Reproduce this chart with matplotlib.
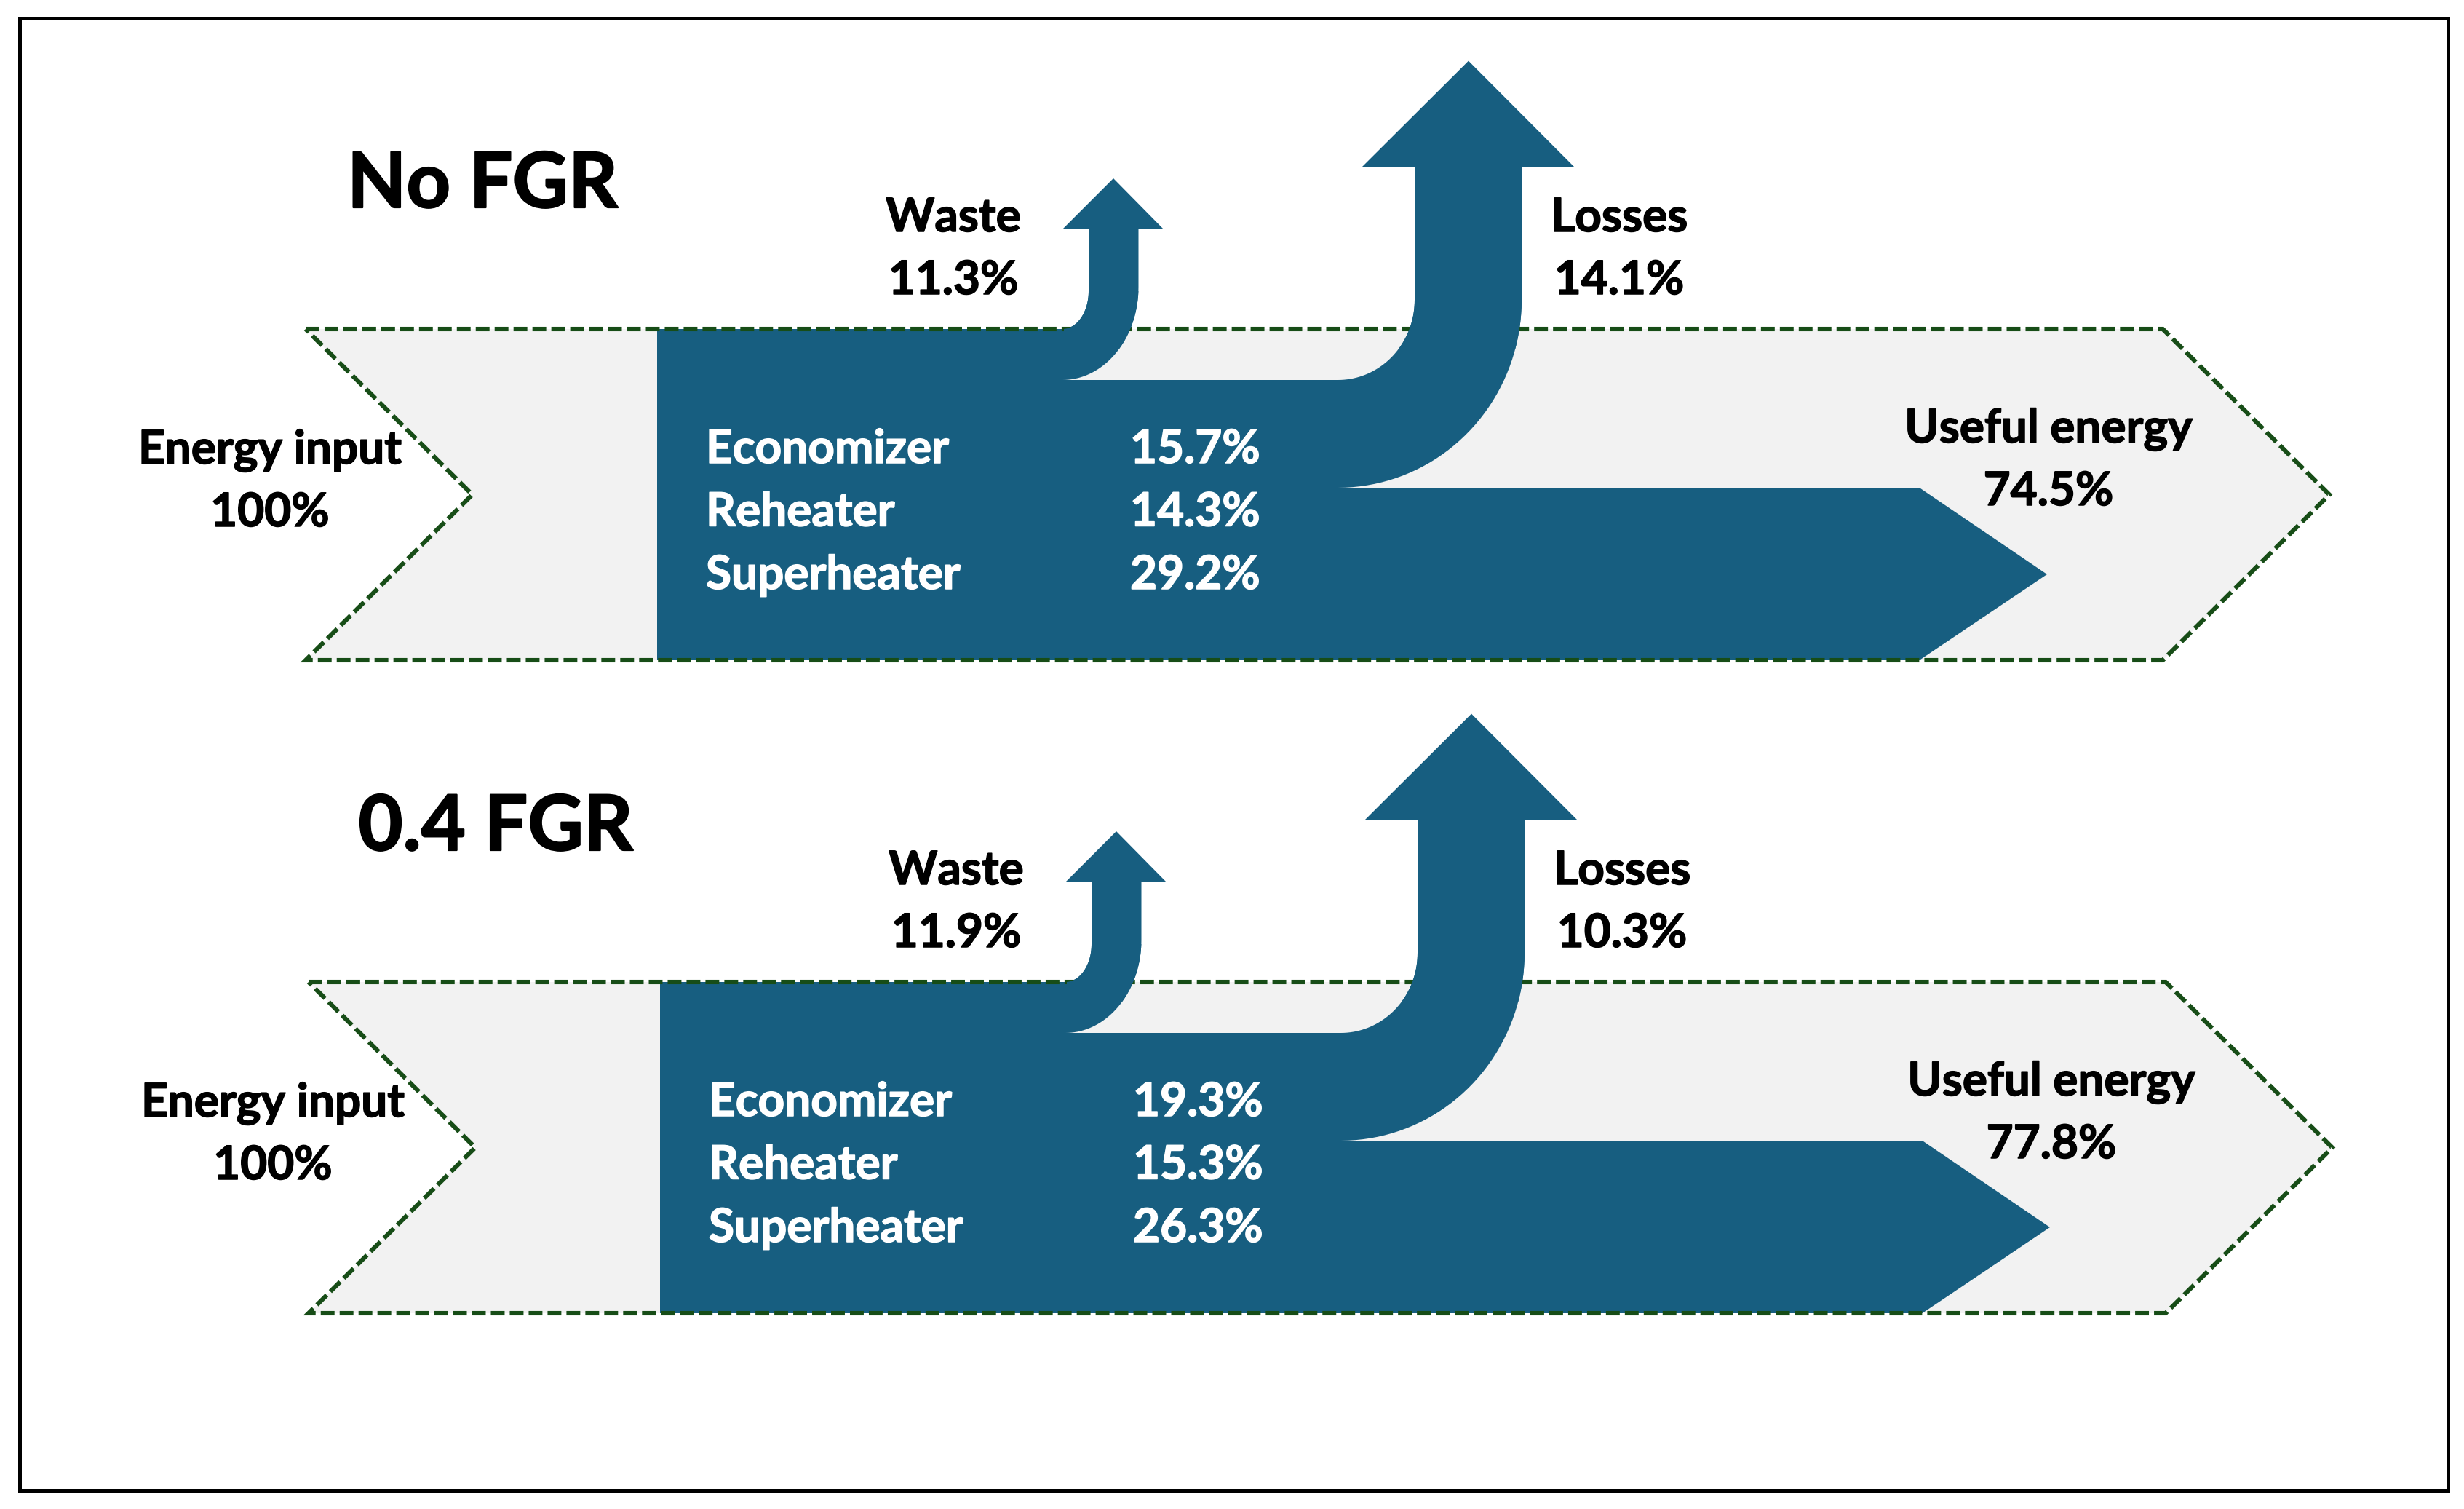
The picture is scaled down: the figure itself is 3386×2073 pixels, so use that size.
import numpy as np
import matplotlib
matplotlib.use("Agg")
import matplotlib.pyplot as plt
import matplotlib.patheffects as pe
from matplotlib.patches import Polygon, Rectangle

plt.rcParams['font.family'] = ['Lato', 'DejaVu Sans']

# data (percent of energy input)
scenarios = ["No FGR", "0.4 FGR"]
energy_input = [100, 100]
waste = [11.3, 11.9]
losses = [14.1, 10.3]
useful = [74.5, 77.8]
components = ["Economizer", "Reheater", "Superheater"]
economizer = [15.7, 19.3]
reheater = [14.3, 15.3]
superheater = [29.2, 26.3]

# layout (pixel space of the output image, y pointing down)
W, H = 3387, 2073
panel_dx = [0, 4]
panel_dy = [0, 897]
title_x = [663, 681]
title_y = [285, 1168]

BLUE = '#175e80'
GREY = '#f2f2f2'
GREEN = '#174d17'
fs_label = 46
fs_title = 76


def arc(cx, cy, rx, ry, a0, a1, n=40):
    t = np.radians(np.linspace(a0, a1, n))
    return np.column_stack([cx + rx * np.cos(t), cy + ry * np.sin(t)])


def bold(color, w=1.1):
    # a thin stroke to get closer to the heavy Calibri look
    return [pe.withStroke(linewidth=w, foreground=color)]


fig = plt.figure(figsize=(W / 100, H / 100), dpi=100)
ax = fig.add_axes([0, 0, 1, 1])
ax.set_xlim(0, W)
ax.set_ylim(H, 0)
ax.axis('off')

for i, name in enumerate(scenarios):
    dx, dy = panel_dx[i], panel_dy[i]
    off = np.array([dx, dy])

    # grey chevron band with dashed outline
    band = np.array([(420, 452), (2972, 452), (3201, 679.5), (2972, 907),
                     (420, 907), (649, 679.5)]) + off
    ax.add_patch(Polygon(band, closed=True, fc=GREY, ec='none', zorder=1))
    ax.add_patch(Polygon(band, closed=True, fill=False, ec=GREEN, lw=4.4,
                         ls=(0, (3.1, 1.15)), zorder=3))

    # blue flow: waste turns up, losses turns up, rest goes right
    body = np.vstack([
        [(903, 452), (1460, 452)],
        arc(1460, 400, 36, 52, 90, 0),
        [(1496, 315), (1460, 315), (1530, 245), (1599, 315), (1564.5, 315)],
        arc(1460, 394, 104.5, 128, 0, 90),
        [(1838.5, 522)],
        arc(1838.5, 412, 105.5, 110, 90, 0),
        [(1944, 230), (1871, 230), (2018, 83.6), (2164, 230), (2091, 230)],
        arc(1838.5, 412, 252.5, 258, 0, 90),
        [(2637.6, 670), (2813, 789), (2637.6, 907), (903, 907)],
    ]) + off
    ax.add_patch(Polygon(body, closed=True, fc=BLUE, ec='none', zorder=2))
    # shafts cover the dashed line where they cross it
    top = Polygon(body, closed=True, fc=BLUE, ec='none', zorder=4)
    ax.add_patch(top)
    clip = Rectangle((1462 + dx, 400 + dy), 800, 80, transform=ax.transData)
    top.set_clip_path(clip)

    ax.text(title_x[i], title_y[i], name, fontsize=fs_title, fontweight='bold',
            ha='center', va='baseline', zorder=5, path_effects=bold('black', 1.6))

    def two_line(x, y, top_txt, bottom_txt):
        ax.text(x + dx, y + dy, top_txt, fontsize=fs_label, fontweight='bold',
                ha='center', va='baseline', zorder=5,
                path_effects=bold('black'))
        ax.text(x + dx, y + 86 + dy, bottom_txt, fontsize=fs_label,
                fontweight='bold', ha='center', va='baseline', zorder=5,
                path_effects=bold('black'))

    two_line(371, 637, "Energy input", f"{energy_input[i]}%")
    two_line(1310, 318, "Waste", f"{waste[i]}%")
    two_line(2225, 318, "Losses", f"{losses[i]}%")
    two_line(2815, 608, "Useful energy", f"{useful[i]}%")

    vals = [economizer[i], reheater[i], superheater[i]]
    for k, (comp, v) in enumerate(zip(components, vals)):
        yb = 636 + k * 86.5 + dy
        ax.text(970 + dx, yb, comp, fontsize=fs_label, fontweight='bold',
                color='white', ha='left', va='baseline', zorder=5,
                path_effects=bold('white'))
        ax.text(1553 + dx, yb, f"{v}%", fontsize=fs_label, fontweight='bold',
                color='white', ha='left', va='baseline', zorder=5,
                path_effects=bold('white'))

# outer frame
ax.add_patch(Rectangle((27, 25), 3337, 2023, fill=False, ec='black', lw=3.6,
                       zorder=6))

fig.savefig("out.png", dpi=100, facecolor='white')
